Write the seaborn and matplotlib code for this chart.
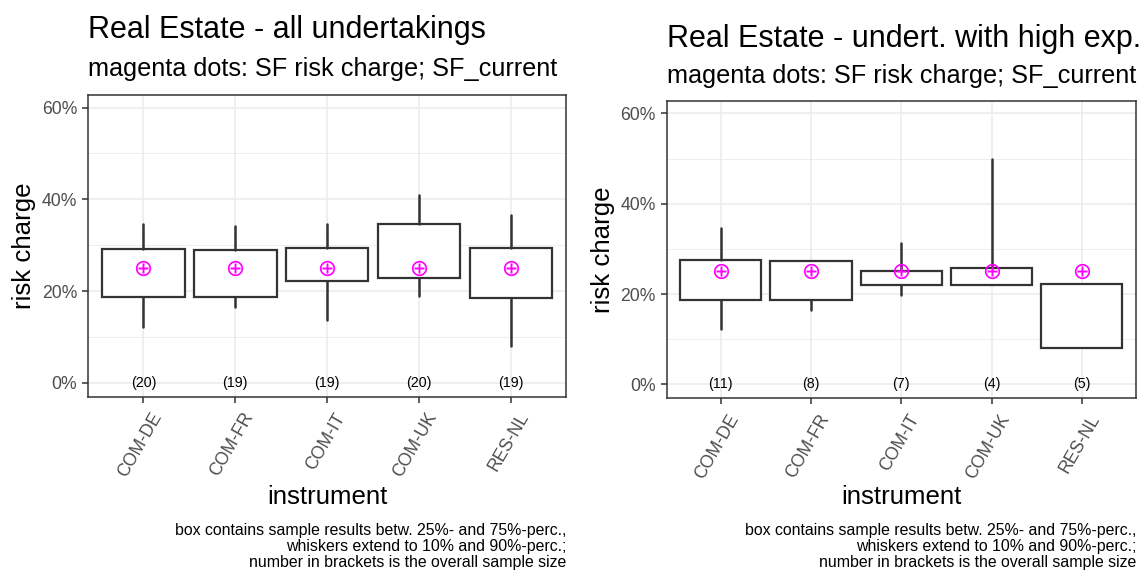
import numpy as np
import pandas as pd
import seaborn as sns
import matplotlib.pyplot as plt
from matplotlib.ticker import PercentFormatter, MultipleLocator
from matplotlib.transforms import ScaledTranslation

instruments = ['COM-DE', 'COM-FR', 'COM-IT', 'COM-UK', 'RES-NL']
sf_charge = [0.25, 0.25, 0.25, 0.25, 0.25]

# all undertakings: 10/25/75/90 percentiles and sample sizes
all_p10 = [0.122, 0.165, 0.138, 0.190, 0.081]
all_p25 = [0.188, 0.188, 0.222, 0.228, 0.185]
all_p75 = [0.291, 0.289, 0.293, 0.347, 0.293]
all_p90 = [0.346, 0.342, 0.346, 0.409, 0.366]
all_n = [20, 19, 19, 20, 19]

# undertakings with high exposure
high_p10 = [0.122, 0.165, 0.198, 0.221, 0.080]
high_p25 = [0.187, 0.187, 0.221, 0.221, 0.080]
high_p75 = [0.275, 0.273, 0.251, 0.258, 0.222]
high_p90 = [0.346, 0.273, 0.312, 0.499, 0.222]
high_n = [11, 8, 7, 4, 5]

caption = ("box contains sample results betw. 25%- and 75%-perc.,\n"
           "whiskers extend to 10% and 90%-perc.;\n"
           "number in brackets is the overall sample size")
subtitle = "magenta dots: SF risk charge; SF_current"

sns.set_theme(style="white")
plt.rcParams['font.family'] = ['Liberation Sans', 'DejaVu Sans']
plt.rcParams['text.color'] = 'black'
plt.rcParams['axes.labelcolor'] = 'black'

W, H = 1142, 570
fig = plt.figure(figsize=(W / 100, H / 100), dpi=100)


def draw_panel(rect, title, p10, p25, p75, p90, counts, title_y, sub_y):
    x0, y0, x1, y1 = rect
    ax = fig.add_axes([x0 / W, 1 - y1 / H, (x1 - x0) / W, (y1 - y0) / H])

    df = pd.DataFrame({'instrument': instruments, 'sf': sf_charge})
    sns.stripplot(data=df, x='instrument', y='sf', order=instruments, jitter=False,
                  marker='$\\oplus$', size=11, color='#FF00FF', linewidth=0,
                  zorder=5, ax=ax)

    stats = [dict(med=q1, q1=q1, q3=q3, whislo=lo, whishi=hi, fliers=[])
             for lo, q1, q3, hi in zip(p10, p25, p75, p90)]
    ax.bxp(stats, positions=range(len(instruments)), widths=0.9, patch_artist=True,
           showcaps=False, showfliers=False, manage_ticks=False, zorder=3,
           boxprops=dict(facecolor='white', edgecolor='#333333', linewidth=1.6),
           whiskerprops=dict(color='#333333', linewidth=1.8),
           medianprops=dict(visible=False))

    for i, n in enumerate(counts):
        ax.text(i, 0, f"({n})", ha='center', va='center', fontsize=10.3,
                color='black', zorder=6)

    ax.set_xlim(-0.6, len(instruments) - 0.4)
    ax.set_ylim(-0.03, 0.628)
    ax.yaxis.set_major_locator(MultipleLocator(0.2))
    ax.yaxis.set_minor_locator(MultipleLocator(0.1))
    ax.yaxis.set_major_formatter(PercentFormatter(1.0, decimals=0))
    ax.set_xticks(range(len(instruments)))
    ax.set_xticklabels(instruments, rotation=60, ha='right', va='top',
                       rotation_mode='anchor')

    ax.grid(True, which='major', color='#EBEBEB', linewidth=1.1, zorder=0)
    ax.grid(True, which='minor', axis='y', color='#EBEBEB', linewidth=0.6, zorder=0)
    ax.set_axisbelow(True)
    for s in ax.spines.values():
        s.set_color('#333333')
        s.set_linewidth(1.1)
    ax.tick_params(which='major', length=4.5, width=1.1, color='#333333',
                   labelcolor='#4D4D4D', labelsize=12.7, pad=3.5,
                   left=True, bottom=True)
    ax.tick_params(which='minor', length=0)

    # nudge rotated labels like ggplot's hjust=1 anchor (after tick_params resets transforms)
    shift = ScaledTranslation(7 / 100, -2 / 100, fig.dpi_scale_trans)
    for lab in ax.get_xticklabels():
        lab.set_transform(lab.get_transform() + shift)

    ax.set_xlabel('instrument', fontsize=18.6, va='center')
    ax.xaxis.set_label_coords(0.5, (y1 - 497) / (y1 - y0))
    ax.set_ylabel('risk charge', fontsize=18.6, va='center')
    ax.yaxis.set_label_coords(-0.135, 0.5)

    fig.text(x0 / W, 1 - title_y / H, title, fontsize=22, va='baseline', ha='left')
    fig.text(x0 / W, 1 - sub_y / H, subtitle, fontsize=18.2, va='baseline', ha='left')
    fig.text(x1 / W, 1 - 523 / H, caption, fontsize=11.4, va='top', ha='right',
             multialignment='right', linespacing=1.1)
    return ax


draw_panel((88.3, 94.7, 566, 396.7), "Real Estate - all undertakings",
           all_p10, all_p25, all_p75, all_p90, all_n, 38, 76)
draw_panel((666.7, 100.7, 1136, 398), "Real Estate - undert. with high exp.",
           high_p10, high_p25, high_p75, high_p90, high_n, 47, 83)

fig.savefig('out.png', dpi=100)
